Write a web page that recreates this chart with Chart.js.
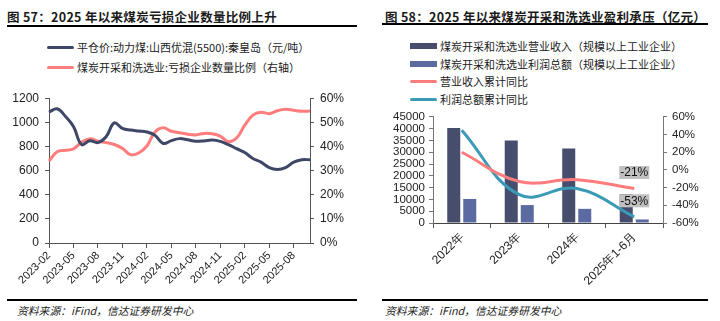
<!DOCTYPE html>
<html>
<head>
<meta charset="utf-8">
<script src="https://cdn.jsdelivr.net/npm/chart.js@4.4.0/dist/chart.umd.min.js"></script>
<style>
  body { margin: 0; width: 720px; height: 321px; background: #fff; position: relative; overflow: hidden;
         font-family: "Noto Sans CJK SC", sans-serif; color: #1a1a1a; }
  .title { position: absolute; top: 8px; height: 17px; line-height: 17px; font-size: 12.5px; font-weight: bold;
           border-bottom: 2px solid #000; white-space: nowrap; letter-spacing: 0.3px; }
  .foot { position: absolute; top: 299px; border-top: 2px solid #000; font-size: 10.8px; font-style: italic;
          line-height: 18px; white-space: nowrap; color: #222; }
  .legend { position: absolute; font-size: 11px; white-space: nowrap; }
  .legend div { position: absolute; left: 0; height: 16px; line-height: 16px; }
  .legend span.sw { position: absolute; left: 0; width: 27px; }
  .legend span.tx { position: absolute; left: 30px; top: 0; }
  canvas { position: absolute; }
</style>
</head>
<body>
<div class="title" style="left:7px;width:350px">图 57：2025 年以来煤炭亏损企业数量比例上升</div>
<div class="title" style="left:382px;width:326px;padding-left:3px;box-sizing:border-box">图 58：2025 年以来煤炭开采和洗选业盈利承压（亿元）</div>

<div class="legend" id="legendL" style="left:47px;top:0"></div>
<div class="legend" id="legendR" style="left:410px;top:0"></div>

<canvas id="chartL" width="357" height="210" style="left:0;top:85px"></canvas>
<canvas id="chartR" width="360" height="190" style="left:360px;top:105px"></canvas>

<div class="foot" style="left:7px;width:350px;padding-left:10px;box-sizing:border-box">资料来源：iFind，信达证券研发中心</div>
<div class="foot" style="left:382px;width:326px;padding-left:3px;box-sizing:border-box">资料来源：iFind，信达证券研发中心</div>

<script>
// ---- left chart data (monthly) ----
const months = ['2023-02','2023-03','2023-04','2023-05','2023-06','2023-07','2023-08','2023-09','2023-10',
  '2023-11','2023-12','2024-01','2024-02','2024-03','2024-04','2024-05','2024-06','2024-07','2024-08',
  '2024-09','2024-10','2024-11','2024-12','2025-01','2025-02','2025-03','2025-04','2025-05','2025-06',
  '2025-07','2025-08','2025-09','2025-10'];
const coalPrice = [1085, 1112, 1050, 965, 815, 848, 832, 880, 995, 950, 936, 928, 920, 892, 825, 848,
  865, 855, 843, 846, 853, 842, 815, 782, 750, 700, 670, 625, 610, 625, 670, 690, 690];
const lossRatio = [34, 37.8, 38.4, 39, 41.8, 43.2, 42.2, 41.6, 40.8, 39.2, 36.6, 37.3, 40.2, 46, 47.8,
  46.3, 45.7, 45.1, 44.8, 45.4, 45.3, 44.3, 42, 43.5, 48.8, 53, 54.2, 53.6, 54.8, 55.4, 55, 54.6, 54.7];
const priceName = '平仓价:动力煤:山西优混(5500):秦皇岛（元/吨）';
const ratioName = '煤炭开采和洗选业:亏损企业数量比例（右轴）';

// ---- right chart data ----
const periods = ['2022年', '2023年', '2024年', '2025年1-6月'];
const revenue = [40300, 35000, 31600, 12200];
const profit = [10200, 7600, 6000, 1500];
const revenueYoY = [20, -13, -11, -21];
const profitYoY = [45, -28, -21, -53];
const revenueName = '煤炭开采和洗选业营业收入（规模以上工业企业）';
const profitName = '煤炭开采和洗选业利润总额（规模以上工业企业）';
const revenueYoYName = '营业收入累计同比';
const profitYoYName = '利润总额累计同比';

const navy = '#3f4767';
const pink = '#ff7c7c';
const barDark = '#464d6d';
const barLight = '#5c6aa2';
const teal = '#3b9ab6';
const tickFont = { family: 'Arial, "Liberation Sans", sans-serif', size: 12 };
const tickFontR = { family: 'Arial, "Liberation Sans", sans-serif', size: 11.5 };

function buildLegend(el, items, topStart, step) {
  items.forEach((it, i) => {
    const row = document.createElement('div');
    row.style.top = (topStart + i * step - 8) + 'px';
    const sw = document.createElement('span');
    sw.className = 'sw';
    const h = it.box ? 6 : 3;
    sw.style.height = h + 'px';
    sw.style.top = (8 - h / 2) + 'px';
    sw.style.background = it.color;
    if (!it.box) sw.style.borderRadius = '2px';
    const tx = document.createElement('span');
    tx.className = 'tx';
    tx.textContent = it.text;
    row.appendChild(sw);
    row.appendChild(tx);
    el.appendChild(row);
  });
}

buildLegend(document.getElementById('legendL'), [
  { text: priceName, color: navy },
  { text: ratioName, color: pink }
], 47, 20);

buildLegend(document.getElementById('legendR'), [
  { text: revenueName, color: barDark, box: true },
  { text: profitName, color: barLight, box: true },
  { text: revenueYoYName, color: pink },
  { text: profitYoYName, color: teal }
], 46, 17.7);

new Chart(document.getElementById('chartL'), {
  type: 'line',
  data: {
    labels: months,
    datasets: [
      { label: priceName, data: coalPrice, borderColor: navy, borderWidth: 3, pointRadius: 0, tension: 0.4, yAxisID: 'y' },
      { label: ratioName, data: lossRatio, borderColor: pink, borderWidth: 3, pointRadius: 0, tension: 0.4, yAxisID: 'y1' }
    ]
  },
  options: {
    responsive: false,
    animation: false,
    plugins: { legend: { display: false }, tooltip: { enabled: false } },
    layout: { padding: 0 },
    scales: {
      x: {
        grid: { drawOnChartArea: false, tickLength: 5,
                tickColor: c => (c.index % 3 === 0 ? '#555' : 'rgba(0,0,0,0)') },
        border: { color: '#555' },
        ticks: { autoSkip: false, maxRotation: 45, minRotation: 45, padding: 1, font: { ...tickFont, size: 11 },
                 color: '#222', callback: (v, i) => (i % 3 === 0 ? months[i] : '') },
        afterFit: s => { s.height = 52; }
      },
      y: {
        position: 'left', min: 0, max: 1200,
        grid: { drawOnChartArea: false, tickLength: 4, tickColor: '#555' },
        border: { color: '#555' },
        ticks: { stepSize: 200, autoSkip: false, padding: 6, font: tickFont, color: '#222', callback: v => String(v) },
        afterFit: s => { s.width = 49; }
      },
      y1: {
        position: 'right', min: 0, max: 60,
        grid: { drawOnChartArea: false, tickLength: 4, tickColor: '#555' },
        border: { color: '#555' },
        ticks: { stepSize: 10, autoSkip: false, padding: 6, font: tickFont, color: '#222', callback: v => v + '%' },
        afterFit: s => { s.width = 47; }
      }
    }
  }
});

// gray boxed value labels on the last point of each line
const lastLabels = {
  id: 'lastLabels',
  afterDatasetsDraw(chart) {
    const ctx = chart.ctx;
    ctx.save();
    ctx.font = '12px Arial, "Liberation Sans", sans-serif';
    ctx.textAlign = 'center';
    ctx.textBaseline = 'middle';
    chart.data.datasets.forEach((ds, di) => {
      if (ds.type !== 'line') return;
      const meta = chart.getDatasetMeta(di);
      const pt = meta.data[meta.data.length - 1];
      const txt = ds.data[ds.data.length - 1] + '%';
      const w = ctx.measureText(txt).width + 2;
      const y = pt.y - 16;
      ctx.fillStyle = '#c0c0c0';
      ctx.fillRect(pt.x - w / 2, y - 6.5, w, 13);
      ctx.fillStyle = '#111';
      ctx.fillText(txt, pt.x, y + 0.5);
    });
    ctx.restore();
  }
};

new Chart(document.getElementById('chartR'), {
  type: 'bar',
  data: {
    labels: periods,
    datasets: [
      { type: 'line', label: revenueYoYName, data: revenueYoY, borderColor: pink, borderWidth: 3, pointRadius: 0,
        tension: 0.4, yAxisID: 'y1', order: 0 },
      { type: 'line', label: profitYoYName, data: profitYoY, borderColor: teal, borderWidth: 3, pointRadius: 0,
        tension: 0.4, yAxisID: 'y1', order: 0 },
      { label: revenueName, data: revenue, backgroundColor: barDark, yAxisID: 'y', order: 1,
        categoryPercentage: 0.557, barPercentage: 0.8125 },
      { label: profitName, data: profit, backgroundColor: barLight, yAxisID: 'y', order: 1,
        categoryPercentage: 0.557, barPercentage: 0.8125 }
    ]
  },
  options: {
    responsive: false,
    animation: false,
    plugins: { legend: { display: false }, tooltip: { enabled: false } },
    layout: { padding: 0 },
    scales: {
      x: {
        grid: { drawOnChartArea: false, tickLength: 5, tickColor: '#555', offset: true },
        border: { color: '#444' },
        ticks: { autoSkip: false, maxRotation: 45, minRotation: 45, padding: 2, font: { ...tickFontR, size: 12 }, color: '#222' },
        afterFit: s => { s.height = 72; }
      },
      y: {
        position: 'left', min: 0, max: 45000,
        grid: { drawOnChartArea: false, tickLength: 4, tickColor: '#777' },
        border: { color: '#777' },
        ticks: { stepSize: 5000, autoSkip: false, padding: 4, font: tickFontR, color: '#222', callback: v => String(v) },
        afterFit: s => { s.width = 73; }
      },
      y1: {
        position: 'right', min: -60, max: 60,
        grid: { drawOnChartArea: false, tickLength: 4, tickColor: '#777' },
        border: { color: '#777' },
        ticks: { stepSize: 20, autoSkip: false, padding: 5, font: tickFontR, color: '#222', callback: v => v + '%' },
        afterFit: s => { s.width = 57; }
      }
    }
  },
  plugins: [lastLabels]
});
</script>
</body>
</html>
